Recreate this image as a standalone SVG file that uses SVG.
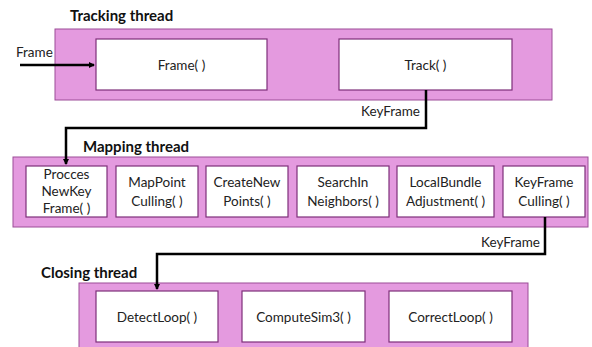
<svg xmlns="http://www.w3.org/2000/svg" width="592" height="347" viewBox="0 0 592 347">
<style>
.band{fill:#E49ADF;stroke:#9C4C97;stroke-width:1}
.box{fill:#fff;stroke:#7E2F7A;stroke-width:1.2}
.t{font-family:Lato,"Open Sans",sans-serif;font-size:13.5px;fill:#222;text-anchor:middle}
.lbl{font-family:Lato,"Open Sans",sans-serif;font-size:13.5px;fill:#222}
.title{font-family:Lato,"Open Sans",sans-serif;font-size:15px;font-weight:bold;fill:#111}
.conn{fill:none;stroke:#000;stroke-width:2.5}
</style>
<defs>
<marker id="ah" markerWidth="6" markerHeight="6" refX="5" refY="3" orient="auto" markerUnits="userSpaceOnUse">
<path d="M0,0 L6,3 L0,6 z" fill="#000"/>
</marker>
</defs>
<g id="tracking">
<text class="title" x="70" y="21">Tracking thread</text>
<rect class="band" x="55" y="29" width="497" height="71"/>
<g id="frame"><rect class="box" x="96" y="39" width="171" height="51"/><text class="t" x="181.5" y="70">Frame( )</text></g>
<g id="track"><rect class="box" x="339" y="39" width="173" height="51"/><text class="t" x="425.5" y="70">Track( )</text></g>
</g>
<g id="mapping">
<text class="title" x="83" y="152">Mapping thread</text>
<rect class="band" x="13" y="157" width="575" height="70"/>
<g id="procces"><rect class="box" x="26" y="166" width="81" height="51"/><text class="t" x="66.5" y="179">Procces</text><text class="t" x="66.5" y="196">NewKey</text><text class="t" x="66.5" y="213">Frame( )</text></g>
<g id="mappoint"><rect class="box" x="116" y="166" width="82" height="51"/><text class="t" x="157" y="187">MapPoint</text><text class="t" x="157" y="206">Culling( )</text></g>
<g id="createnew"><rect class="box" x="206" y="166" width="82" height="51"/><text class="t" x="247" y="187">CreateNew</text><text class="t" x="247" y="206">Points( )</text></g>
<g id="searchin"><rect class="box" x="297" y="166" width="92" height="51"/><text class="t" x="343" y="187">SearchIn</text><text class="t" x="343" y="206">Neighbors( )</text></g>
<g id="localbundle"><rect class="box" x="397" y="166" width="97" height="51"/><text class="t" x="445.5" y="187">LocalBundle</text><text class="t" x="445.5" y="206">Adjustment( )</text></g>
<g id="kfculling"><rect class="box" x="503" y="166" width="82" height="51"/><text class="t" x="544" y="187">KeyFrame</text><text class="t" x="544" y="206">Culling( )</text></g>
</g>
<g id="closing">
<text class="title" x="41" y="278">Closing thread</text>
<rect class="band" x="79" y="283" width="449" height="70"/>
<g id="detect"><rect class="box" x="96" y="291" width="122" height="51"/><text class="t" x="157" y="322">DetectLoop( )</text></g>
<g id="compute"><rect class="box" x="242" y="291" width="123" height="51"/><text class="t" x="303.5" y="322">ComputeSim3( )</text></g>
<g id="correct"><rect class="box" x="389" y="291" width="123" height="51"/><text class="t" x="450.5" y="322">CorrectLoop( )</text></g>
</g>
<g id="connectors">
<path class="conn" d="M20,65 H94" marker-end="url(#ah)"/>
<text class="lbl" x="16" y="57">Frame</text>
<path class="conn" d="M426,90 V128 H66 V164" marker-end="url(#ah)"/>
<text class="lbl" x="420" y="116" text-anchor="end">KeyFrame</text>
<path class="conn" d="M545,217 V254 H157 V289" marker-end="url(#ah)"/>
<text class="lbl" x="540" y="247" text-anchor="end">KeyFrame</text>
</g>
</svg>
